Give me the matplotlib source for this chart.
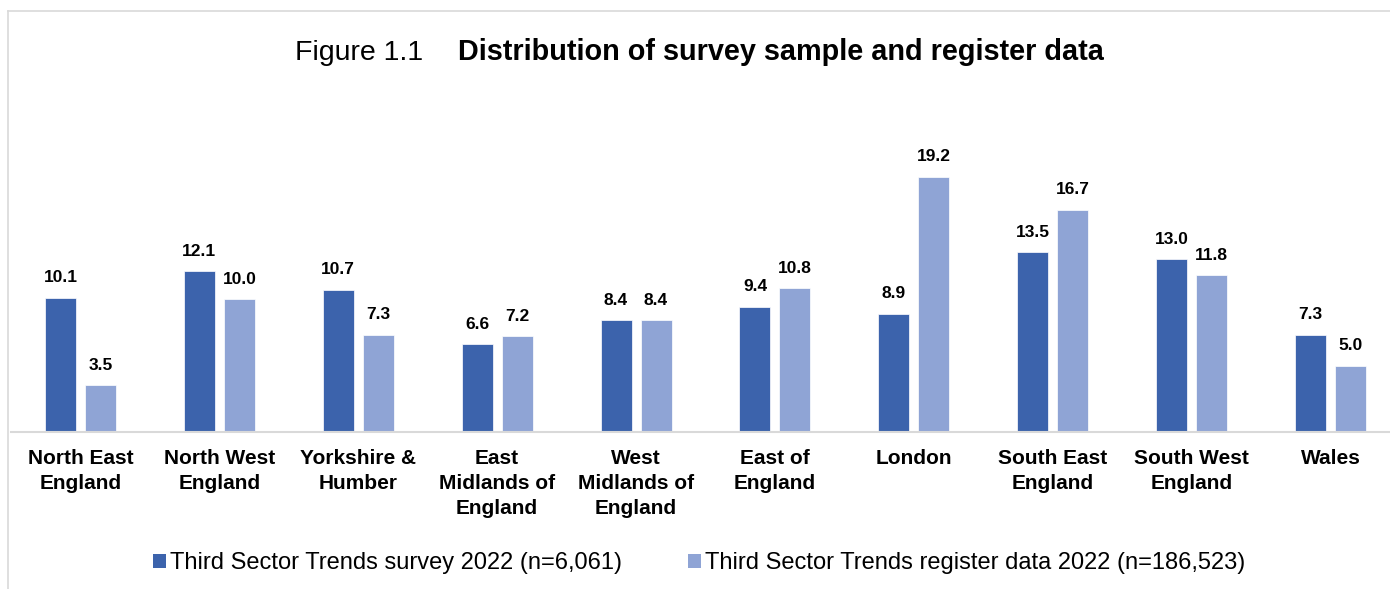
import numpy as np
import matplotlib
matplotlib.use("Agg")
import matplotlib.pyplot as plt
from matplotlib.patches import Patch
from matplotlib.lines import Line2D

# data
regions = ["North East\nEngland", "North West\nEngland", "Yorkshire &\nHumber",
           "East\nMidlands of\nEngland", "West\nMidlands of\nEngland", "East of\nEngland",
           "London", "South East\nEngland", "South West\nEngland", "Wales"]
survey = [10.1, 12.1, 10.7, 6.6, 8.4, 9.4, 8.9, 13.5, 13.0, 7.3]
register = [3.5, 10.0, 7.3, 7.2, 8.4, 10.8, 19.2, 16.7, 11.8, 5.0]
series_names = ["Third Sector Trends survey 2022 (n=6,061)",
                "Third Sector Trends register data 2022 (n=186,523)"]

DARK = "#3C63AC"
LIGHT = "#8FA4D5"
GRID = "#D9D9D9"

plt.rcParams["font.family"] = ["Liberation Sans", "DejaVu Sans"]

W, H = 1390, 589
fig = plt.figure(figsize=(W / 100, H / 100), dpi=100)

# axes placed in pixel terms
ax = fig.add_axes([11 / W, (H - 432) / H, 1389 / W, 302 / H])

x = np.arange(len(regions))
bw = 0.223
off = 0.144
b1 = ax.bar(x - off, survey, bw, color=DARK, edgecolor="white", linewidth=0.5, zorder=2)
b2 = ax.bar(x + off, register, bw, color=LIGHT, edgecolor="white", linewidth=0.5, zorder=2)

for bars, vals in ((b1, survey), (b2, register)):
    for rect, v in zip(bars, vals):
        ax.annotate(f"{v:.1f}", (rect.get_x() + rect.get_width() / 2, v),
                    xytext=(0, 9), textcoords="offset points",
                    ha="center", va="bottom", fontsize=12.5, fontweight="bold")

ax.set_xlim(-0.5, len(regions) - 0.5)
ax.set_ylim(0, 302 / 13.3)
ax.set_xticks(x)
ax.set_xticklabels(regions, fontsize=15, fontweight="bold", linespacing=1.4)
ax.tick_params(axis="x", length=0, pad=12)
ax.set_yticks([])
for s in ("top", "right", "left"):
    ax.spines[s].set_visible(False)
ax.spines["bottom"].set_color(GRID)
ax.spines["bottom"].set_linewidth(1.5)
ax.patch.set_alpha(0)

# title: plain prefix + bold heading
fig.text(295 / W, 1 - 60 / H, "Figure 1.1", fontsize=20.5, ha="left", va="baseline")
fig.text(458 / W, 1 - 60 / H, "Distribution of survey sample and register data",
         fontsize=20.8, fontweight="bold", ha="left", va="baseline")

# chart border (top and left visible)
fig.add_artist(Line2D([8 / W, 1], [1 - 11 / H, 1 - 11 / H], color=GRID, lw=1.2,
                      transform=fig.transFigure))
fig.add_artist(Line2D([8 / W, 8 / W], [0, 1 - 11 / H], color=GRID, lw=1.2,
                      transform=fig.transFigure))

handles = [Patch(facecolor=DARK), Patch(facecolor=LIGHT)]
fig.legend(handles, series_names, loc="center", bbox_to_anchor=(699 / W, 1 - 563 / H),
           ncol=2, frameon=False, fontsize=17, handlelength=0.55, handleheight=0.55,
           handletextpad=0.17, columnspacing=2.8)

fig.savefig("out.png", dpi=100)
